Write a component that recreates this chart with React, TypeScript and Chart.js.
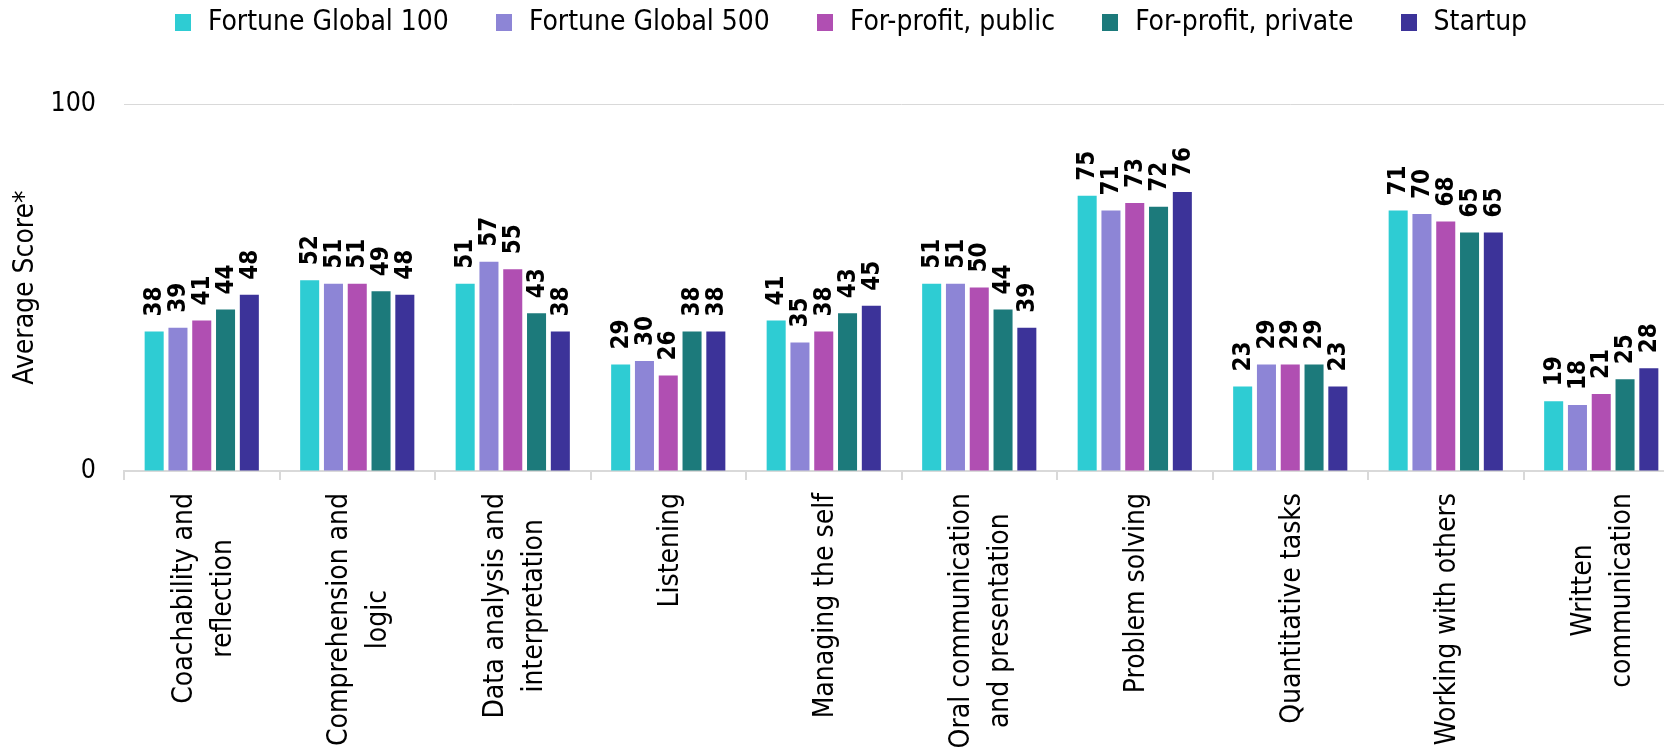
import React, { useEffect, useRef } from 'react';
import { Chart, registerables } from 'chart.js';

Chart.register(...registerables);

const CATEGORIES: string[][] = [
  ['Coachability and', 'reflection'],
  ['Comprehension and', 'logic'],
  ['Data analysis and', 'interpretation'],
  ['Listening'],
  ['Managing the self'],
  ['Oral communication', 'and presentation'],
  ['Problem solving'],
  ['Quantitative tasks'],
  ['Working with others'],
  ['Written', 'communication'],
];

const SERIES_NAMES = [
  'Fortune Global 100',
  'Fortune Global 500',
  'For-profit, public',
  'For-profit, private',
  'Startup',
];

const FORTUNE_100 = [38, 52, 51, 29, 41, 51, 75, 23, 71, 19];
const FORTUNE_500 = [39, 51, 57, 30, 35, 51, 71, 29, 70, 18];
const FOR_PROFIT_PUBLIC = [41, 51, 55, 26, 38, 50, 73, 29, 68, 21];
const FOR_PROFIT_PRIVATE = [44, 49, 43, 38, 43, 44, 72, 29, 65, 25];
const STARTUP = [48, 48, 38, 38, 45, 39, 76, 23, 65, 28];

const COLORS = ['#2ECCD3', '#8D85D6', '#B04FB2', '#1C7A7B', '#3C3399'];

const Y_TICKS = [0, 100];
const Y_TITLE = 'Average Score*';

function detectFont(): { fam: string; k: number } {
  const c = document.createElement('canvas').getContext('2d');
  if (!c) return { fam: "'DejaVu Sans', sans-serif", k: 0.9 };
  const s = 'Fortune Global 100 abcdefg';
  c.font = '40px monospace';
  const w0 = c.measureText(s).width;
  c.font = "40px 'DejaVu Sans Condensed', monospace";
  const w1 = c.measureText(s).width;
  if (Math.abs(w1 - w0) > 1) return { fam: "'DejaVu Sans Condensed', 'DejaVu Sans', sans-serif", k: 1 };
  return { fam: "'DejaVu Sans', sans-serif", k: 0.9 };
}

function swatch(color: string): HTMLCanvasElement {
  const c = document.createElement('canvas');
  c.width = 16;
  c.height = 17;
  const x = c.getContext('2d');
  if (x) {
    x.fillStyle = color;
    x.fillRect(0, 0, 16, 17);
  }
  return c;
}

export default function App() {
  const ref = useRef<HTMLCanvasElement | null>(null);

  useEffect(() => {
    if (!ref.current) return;
    const { fam, k } = detectFont();
    const swatches = COLORS.map(swatch);
    const seriesValues = [FORTUNE_100, FORTUNE_500, FOR_PROFIT_PUBLIC, FOR_PROFIT_PRIVATE, STARTUP];

    const labelsPlugin = {
      id: 'customLabels',
      afterInit(chart: any) {
        const lg = chart.legend;
        if (lg && !lg.__wrapped) {
          const orig = lg.fit;
          lg.fit = function () {
            orig.call(this);
            this.height += 57.6;
          };
          lg.__wrapped = true;
        }
      },
      afterDraw(chart: any) {
        const ctx = chart.ctx;
        ctx.save();
        ctx.fillStyle = '#000';
        ctx.font = `bold ${24 * k}px ${fam}`;
        ctx.textAlign = 'left';
        ctx.textBaseline = 'middle';
        chart.data.datasets.forEach((ds: any, di: number) => {
          const meta = chart.getDatasetMeta(di);
          meta.data.forEach((bar: any, i: number) => {
            ctx.save();
            ctx.translate(bar.x, bar.y - 15);
            ctx.rotate(-Math.PI / 2);
            ctx.fillText(String(ds.data[i]), 0, 1);
            ctx.restore();
          });
        });
        const xs = chart.scales.x;
        ctx.font = `${28 * k}px ${fam}`;
        ctx.textAlign = 'center';
        const top = xs.top + 22;
        CATEGORIES.forEach((lines, i) => {
          const x = xs.getPixelForValue(i);
          const maxW = Math.max(...lines.map((l) => ctx.measureText(l).width));
          ctx.save();
          ctx.translate(x, top + maxW / 2);
          ctx.rotate(-Math.PI / 2);
          lines.forEach((l, j) => {
            ctx.fillText(l, 0, (j - (lines.length - 1) / 2) * 39 + 2);
          });
          ctx.restore();
        });
        ctx.restore();
      },
    };

    const chart = new Chart(ref.current, {
      type: 'bar',
      data: {
        labels: CATEGORIES.map((c) => c.join(' ')),
        datasets: SERIES_NAMES.map((name, i) => ({
          label: name,
          data: seriesValues[i],
          backgroundColor: COLORS[i],
          borderWidth: 0,
          categoryPercentage: 0.765,
          barPercentage: 0.8,
        })),
      },
      options: {
        responsive: false,
        animation: false,
        layout: { padding: { top: -43.6, left: 12, right: 9, bottom: 0 } },
        plugins: {
          tooltip: { enabled: false },
          legend: {
            position: 'top',
            labels: {
              usePointStyle: true,
              pointStyleWidth: 22,
              padding: 44,
              color: '#000',
              font: { family: fam, size: 28 * k },
              generateLabels: (c: any) =>
                (Chart.defaults.plugins.legend.labels as any)
                  .generateLabels(c)
                  .map((it: any, i: number) => ({ ...it, pointStyle: swatches[i] })),
            },
          },
        },
        scales: {
          x: {
            grid: {
              display: true,
              drawOnChartArea: false,
              drawTicks: true,
              tickLength: 9,
              color: '#d9d9d9',
              lineWidth: 2,
              offset: true,
            },
            border: { display: true, color: '#d9d9d9', width: 2 },
            ticks: { display: false },
            afterFit: (s: any) => {
              s.height = 281;
            },
          },
          y: {
            min: 0,
            max: 100,
            afterBuildTicks: (s: any) => {
              s.ticks = Y_TICKS.map((v) => ({ value: v }));
            },
            grid: { color: '#d9d9d9', lineWidth: 1, drawTicks: false },
            border: { display: false },
            ticks: {
              color: '#000',
              padding: 28,
              font: { family: fam, size: 26.5 * k },
            },
            title: {
              display: true,
              text: Y_TITLE,
              color: '#000',
              font: { family: fam, size: 28 * k, lineHeight: 1.2 },
              padding: { top: -11, bottom: 0 },
            },
            afterFit: (s: any) => {
              s.width = 104;
            },
          },
        },
      },
      plugins: [labelsPlugin as any],
    });
    return () => chart.destroy();
  }, []);

  return (
    <div
      style={{
        position: 'absolute',
        left: 8,
        top: 8,
        width: 1656,
        height: 744,
        overflow: 'hidden',
        background: '#fff',
      }}
    >
      <canvas ref={ref} width={1680} height={744} style={{ width: 1680, height: 744, display: 'block' }} />
    </div>
  );
}
